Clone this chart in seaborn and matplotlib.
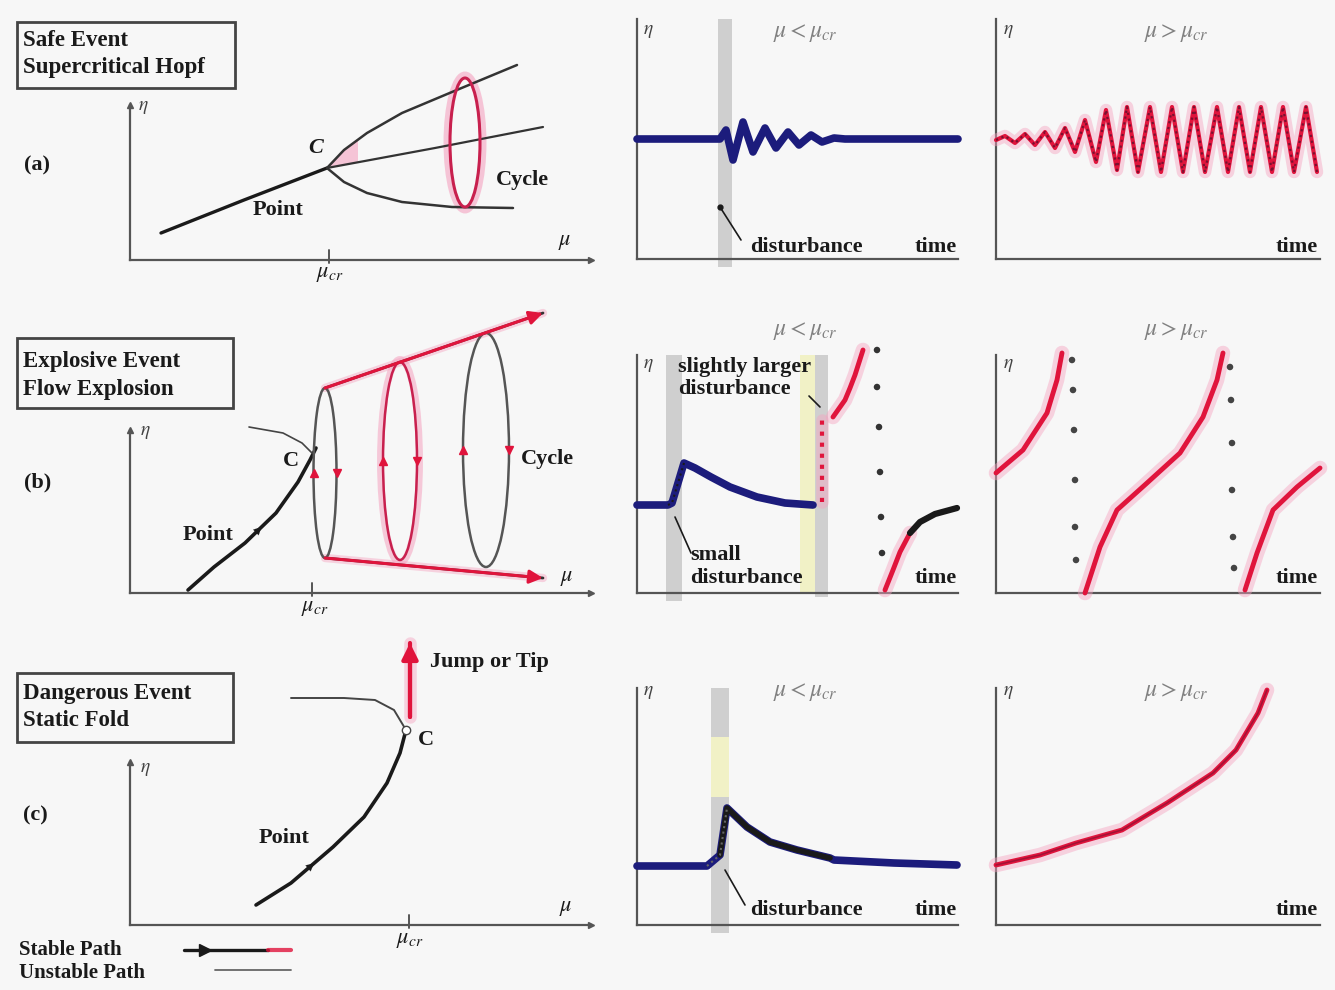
import numpy as np
import pandas as pd
import matplotlib
matplotlib.use("Agg")
import matplotlib.pyplot as plt
import seaborn as sns
from matplotlib.patches import Ellipse, Rectangle
from matplotlib.lines import Line2D

# ---------------- data (panel units = px from axis origin) -------------
# (a) supercritical Hopf
A_POINT_X = [31, 114, 197]
A_POINT_Y = [27, 60, 92]
A_MID_X = [197, 305, 413]
A_MID_Y = [92, 112, 133]
A_UP_X = [197, 214, 237, 272, 322, 387]
A_UP_Y = [92, 110, 127, 147, 168, 195]
A_LOW_X = [197, 214, 237, 272, 322, 383]
A_LOW_Y = [92, 78, 67, 58, 53, 52]
A_CYCLE = (335, 117.5, 30, 129)          # centre x, centre y, width, height
A_WEDGE_X = [197, 214, 228, 228]
A_WEDGE_Y = [92, 110, 121, 98]
A_MUCR = 199

MA_T = [0, 83, 89, 96, 106, 116, 128, 139, 151, 162, 174, 185, 197, 208, 321]
MA_Y = [120, 120, 129, 99, 137, 107, 131, 111, 127, 114, 124, 117, 121, 120, 120]
MA_DIST = (81, 95)

RA_T = [0, 9, 19, 29, 39, 49, 59, 69, 79, 89, 100, 110, 121, 131, 142, 154, 165, 176, 187,
        198, 209, 221, 232, 243, 254, 265, 276, 287, 298, 310, 321]
RA_Y = [119, 123, 116, 125, 114, 127, 111, 131, 107, 139, 97, 149, 89, 152, 87, 152, 87, 152, 87,
        152, 87, 152, 87, 152, 87, 152, 87, 152, 87, 152, 87]

# (b) flow explosion
B_POINT_X = [58, 84, 115, 146, 168, 180, 186]
B_POINT_Y = [3, 26, 50, 80, 111, 133, 145]
B_NOTE_X = [119, 153, 172, 182]
B_NOTE_Y = [166, 160, 150, 140]
B_CYCLES_CX = [195, 270, 356]
B_CYCLES_CY = [120, 132, 143]
B_CYCLES_W = [23, 34, 46]
B_CYCLES_H = [170, 198, 234]
B_TOP_X = [195, 413]
B_TOP_Y = [205, 280]
B_BOT_X = [195, 413]
B_BOT_Y = [35, 15]
B_MUCR = 182

MB_BLUE_T = [0, 31, 35, 47, 58, 74, 93, 120, 148, 176]
MB_BLUE_Y = [88, 88, 90, 130, 125, 116, 106, 96, 90, 88]
MB_JUMP_T = [185, 185]
MB_JUMP_Y = [91, 173]
MB_UP_T = [196, 208, 213, 218, 226]
MB_UP_Y = [176, 193, 205, 218, 243]
MB_DOTS_T = [240, 240, 242, 243, 244, 245]
MB_DOTS_Y = [243, 206, 166, 121, 76, 40]
MB_LOW_T = [248, 256, 263, 273]
MB_LOW_Y = [3, 23, 41, 60]
MB_REST_T = [273, 283, 298, 320]
MB_REST_Y = [60, 71, 79, 85]
MB_BAND1 = (29, 45)
MB_BAND2 = (163, 191)

RB_C1_T = [0, 27, 51, 61, 66]
RB_C1_Y = [120, 143, 180, 213, 240]
RB_D1_T = [76, 77, 78, 79, 79, 80]
RB_D1_Y = [233, 203, 163, 113, 66, 33]
RB_C2_T = [89, 104, 121, 151, 184, 207, 221, 227]
RB_C2_Y = [0, 46, 83, 110, 140, 176, 213, 240]
RB_D2_T = [234, 235, 236, 236, 237, 238]
RB_D2_Y = [226, 193, 150, 103, 56, 25]
RB_C3_T = [249, 261, 277, 301, 324]
RB_C3_Y = [3, 40, 83, 106, 125]

# (c) static fold
C_STABLE_X = [126, 161, 203, 234, 257, 270, 276]
C_STABLE_Y = [20, 42, 78, 108, 142, 172, 195]
C_UNST_X = [276, 264, 245, 214, 161]
C_UNST_Y = [195, 215, 225, 227, 227]
C_JUMP_X = [280, 280]
C_JUMP_Y = [208, 282]
C_MUCR = 279

MC_T = [0, 70, 83, 90, 110, 133, 160, 193, 197, 257, 320]
MC_Y = [59, 59, 70, 117, 98, 83, 75, 67, 65, 62, 60]
MC_DIST = (74, 92)

RC_T = [0, 44, 80, 126, 171, 217, 240, 262, 271]
RC_Y = [60, 70, 82, 95, 122, 152, 175, 212, 235]

TITLES = [("Safe Event", "Supercritical Hopf"),
          ("Explosive Event", "Flow Explosion"),
          ("Dangerous Event", "Static Fold")]
ROW_TAGS = ["(a)", "(b)", "(c)"]

# ---------------- styling -------------
sns.set_theme(style="white")
plt.rcParams['font.family'] = ['Liberation Serif', 'DejaVu Serif']
plt.rcParams['mathtext.fontset'] = 'stix'

BG = '#f7f7f7'
AXC = '#555555'
BLK = '#1a1a1a'
NAVY = '#1c1c7c'
RED = '#e0143c'
PINK = '#f5a3c0'
GBAND = '#cbcbcb'
YEL = '#f1f1c6'
TXT = dict(fontsize=16, fontweight='bold', color=BLK)

W, H = 1335, 990
fig = plt.figure(figsize=(W / 100, H / 100), dpi=100, facecolor=BG)

panels = []


def panel(x0, y0, w, h, arrows=False):
    ax = fig.add_axes([x0 / W, 1 - y0 / H, w / W, h / H])
    ax.set_facecolor('none')
    for s in ['top', 'right']:
        ax.spines[s].set_visible(False)
    for s in ['left', 'bottom']:
        ax.spines[s].set_color(AXC)
        ax.spines[s].set_linewidth(1.6)
    ax.set_xticks([]); ax.set_yticks([])
    if arrows:
        ax.plot([0], [1], marker='^', ms=5, color=AXC, transform=ax.transAxes, clip_on=False)
        ax.plot([1], [0], marker='>', ms=5, color=AXC, transform=ax.transAxes, clip_on=False)
    panels.append((ax, w, h))
    return ax


def curve(ax, xs, ys, color=BLK, lw=2.2, ls='-', glow=None, z=3, alpha=1.0):
    df = pd.DataFrame({'x': xs, 'y': ys})
    if glow:
        sns.lineplot(data=df, x='x', y='y', sort=False, estimator=None, ax=ax, color=glow,
                     lw=lw * 3, alpha=0.45, clip_on=False, zorder=z - 1,
                     solid_capstyle='round')
    sns.lineplot(data=df, x='x', y='y', sort=False, estimator=None, ax=ax, color=color,
                 lw=lw, ls=ls, clip_on=False, zorder=z, alpha=alpha,
                 solid_capstyle='round', solid_joinstyle='round')


def arrow_head(ax, xs, ys, i, color=BLK, size=14, frac=0.6):
    x0, y0, x1, y1 = xs[i], ys[i], xs[i + 1], ys[i + 1]
    xm, ym = x0 + (x1 - x0) * frac, y0 + (y1 - y0) * frac
    ax.annotate('', xy=(xm, ym), xytext=(x0, y0),
                arrowprops=dict(arrowstyle='-|>', color=color, lw=0.1, mutation_scale=size),
                annotation_clip=False, zorder=6)


def end_arrow(ax, xs, ys, color=RED, size=20, lw=2.2):
    ax.annotate('', xy=(xs[-1], ys[-1]), xytext=(xs[-2], ys[-2]),
                arrowprops=dict(arrowstyle='-|>', color=color, lw=lw, mutation_scale=size,
                                shrinkA=0, shrinkB=0),
                annotation_clip=False, zorder=6)


def label(ax, x, y, s, ha='center', va='center', **kw):
    d = dict(TXT); d.update(kw)
    ax.text(x, y, s, ha=ha, va=va, clip_on=False, **d)


def cond(ax, x, y, s):
    ax.text(x, y, s, ha='center', va='center', fontsize=17, color='#808080', clip_on=False)


def eta(ax, x, y):
    ax.text(x, y, r'$\eta$', ha='center', va='center', fontsize=14, color='#444444', clip_on=False)


def band(ax, span, h, color=GBAND, lo=-8, alpha=0.9):
    ax.add_patch(Rectangle((span[0], lo), span[1] - span[0], h - lo, color=color, alpha=alpha,
                           lw=0, zorder=1, clip_on=False))


def fx(x, y):
    return x / W, 1 - y / H


# ---------------- title boxes and row tags -------------
boxes = [(17, 22, 235, 88, 40, 67), (17, 338, 233, 408, 362, 390), (17, 673, 233, 742, 693, 721)]
for (x0, y0, x1, y1, t1, t2), (a, b) in zip(boxes, TITLES):
    fig.add_artist(Rectangle(fx(x0, y1), (x1 - x0) / W, (y1 - y0) / H, transform=fig.transFigure,
                             fill=False, ec='#444444', lw=2.0))
    fig.text(*fx(23, t1), a, ha='left', va='center', fontsize=16.5, fontweight='bold', color=BLK)
    fig.text(*fx(23, t2), b, ha='left', va='center', fontsize=16.5, fontweight='bold', color=BLK)
for (x, y), tag in zip([(37, 165), (38, 482), (35, 815)], ROW_TAGS):
    fig.text(*fx(x, y), tag, ha='center', va='center', fontsize=16, fontweight='bold', color=BLK)

# ---------------- row (a) -------------
ax = panel(130, 260, 461, 155, arrows=True)
ax.fill(A_WEDGE_X, A_WEDGE_Y, color=PINK, alpha=0.6, lw=0, zorder=2)
curve(ax, A_POINT_X, A_POINT_Y, lw=2.4)
curve(ax, A_MID_X, A_MID_Y, color='#333333', lw=1.6)
curve(ax, A_UP_X, A_UP_Y, color='#333333', lw=1.8)
curve(ax, A_LOW_X, A_LOW_Y, color='#333333', lw=1.8)
cx, cy, ew, eh = A_CYCLE
ax.add_patch(Ellipse((cx, cy), ew + 6, eh + 6, fill=False, ec=PINK, lw=5, alpha=0.6, zorder=2,
                     clip_on=False))
ax.add_patch(Ellipse((cx, cy), ew, eh, fill=False, ec='#c8204e', lw=2.2, zorder=4, clip_on=False))
ax.plot([A_MUCR, A_MUCR], [-3, 10], color=AXC, lw=1.4, clip_on=False)
label(ax, 186, 112, 'C', fontstyle='italic')
label(ax, 148, 50, 'Point')
label(ax, 392, 80, 'Cycle')
label(ax, 435, 18, r'$\mu$', fontweight='normal')
label(ax, 200, -14, r'$\mu_{cr}$', fontweight='normal', fontsize=16)
eta(ax, 13, 152)

ax = panel(637, 259, 321, 240)
band(ax, MA_DIST, 240)
curve(ax, MA_T, MA_Y, color=NAVY, lw=5.5, z=4)
ax.plot([83, 104], [52, 19], color=BLK, lw=1.2, clip_on=False)
ax.plot([83], [52], 'o', color=BLK, ms=3.5, clip_on=False)
cond(ax, 168, 226, r'$\mu < \mu_{cr}$')
eta(ax, 11, 227)
label(ax, 169, 12, 'disturbance')
label(ax, 299, 12, 'time')

ax = panel(996, 259, 324, 240)
curve(ax, RA_T, RA_Y, color=RED, lw=3.0, glow=PINK, z=4)
curve(ax, RA_T, RA_Y, color='#7a1030', lw=1.6, ls=':', z=5)
cond(ax, 180, 226, r'$\mu > \mu_{cr}$')
eta(ax, 12, 227)
label(ax, 301, 12, 'time')

# ---------------- row (b) -------------
ax = panel(130, 593, 461, 163, arrows=True)
curve(ax, B_POINT_X, B_POINT_Y, lw=2.6)
arrow_head(ax, B_POINT_X, B_POINT_Y, 2)
curve(ax, B_NOTE_X, B_NOTE_Y, color='#444444', lw=1.2)
ecols = ['#555555', '#c8204e', '#555555']
for cxi, cyi, wi, hi, ec in zip(B_CYCLES_CX, B_CYCLES_CY, B_CYCLES_W, B_CYCLES_H, ecols):
    if ec != '#555555':
        ax.add_patch(Ellipse((cxi, cyi), wi + 5, hi + 5, fill=False, ec=PINK, lw=5, alpha=0.55,
                             zorder=2, clip_on=False))
    ax.add_patch(Ellipse((cxi, cyi), wi, hi, fill=False, ec=ec, lw=1.8, zorder=4, clip_on=False))
    ax.plot([cxi + wi / 2], [cyi], marker='v', color=RED, ms=6, clip_on=False, zorder=5)
    ax.plot([cxi - wi / 2], [cyi], marker='^', color=RED, ms=6, clip_on=False, zorder=5)
curve(ax, B_TOP_X, B_TOP_Y, color='#333333', lw=2.0, glow=PINK)
end_arrow(ax, B_TOP_X, B_TOP_Y)
curve(ax, B_BOT_X, B_BOT_Y, color='#333333', lw=2.0, glow=PINK)
end_arrow(ax, B_BOT_X, B_BOT_Y)
ax.plot([B_MUCR, B_MUCR], [-3, 10], color=AXC, lw=1.4, clip_on=False)
label(ax, 161, 132, 'C')
label(ax, 78, 58, 'Point')
label(ax, 417, 134, 'Cycle')
label(ax, 437, 15, r'$\mu$', fontweight='normal')
label(ax, 185, -16, r'$\mu_{cr}$', fontweight='normal', fontsize=16)
eta(ax, 15, 160)

ax = panel(637, 593, 321, 238)
band(ax, MB_BAND1, 238)
band(ax, (MB_BAND2[0], MB_BAND2[0] + 15), 238, color=YEL, alpha=1.0, lo=0)
band(ax, (MB_BAND2[0] + 15, MB_BAND2[1]), 238, lo=-4)
curve(ax, MB_BLUE_T, MB_BLUE_Y, color=NAVY, lw=5.5, z=4)
curve(ax, MB_BLUE_T[1:4], MB_BLUE_Y[1:4], color=BLK, lw=1.5, ls=':', z=5)
curve(ax, MB_JUMP_T, MB_JUMP_Y, color=RED, lw=3, ls=':', glow=PINK, z=4)
curve(ax, MB_UP_T, MB_UP_Y, color=RED, lw=3.5, glow=PINK, z=4)
sns.scatterplot(x=MB_DOTS_T, y=MB_DOTS_Y, ax=ax, color='#333333', s=22, edgecolor='none',
                clip_on=False, zorder=5)
curve(ax, MB_LOW_T, MB_LOW_Y, color=RED, lw=3.5, glow=PINK, z=4)
curve(ax, MB_REST_T, MB_REST_Y, color=BLK, lw=4.5, z=4)
ax.plot([38, 54], [76, 40], color=BLK, lw=1.2, clip_on=False)
ax.plot([172, 183], [197, 186], color=BLK, lw=1.2, clip_on=False)
cond(ax, 168, 262, r'$\mu < \mu_{cr}$')
eta(ax, 11, 228)
label(ax, 41, 226, 'slightly larger', ha='left')
label(ax, 41, 204, 'disturbance', ha='left')
label(ax, 53, 38, 'small', ha='left')
label(ax, 53, 15, 'disturbance', ha='left')
label(ax, 299, 15, 'time')

ax = panel(996, 593, 324, 238)
for tx, ty in [(RB_C1_T, RB_C1_Y), (RB_C2_T, RB_C2_Y), (RB_C3_T, RB_C3_Y)]:
    curve(ax, tx, ty, color=RED, lw=3.5, glow=PINK, z=4)
for tx, ty in [(RB_D1_T, RB_D1_Y), (RB_D2_T, RB_D2_Y)]:
    sns.scatterplot(x=tx, y=ty, ax=ax, color='#444444', s=22, edgecolor='none',
                    clip_on=False, zorder=5)
cond(ax, 180, 262, r'$\mu > \mu_{cr}$')
eta(ax, 12, 228)
label(ax, 301, 15, 'time')

# ---------------- row (c) -------------
ax = panel(130, 925, 461, 163, arrows=True)
curve(ax, C_STABLE_X, C_STABLE_Y, lw=2.6)
arrow_head(ax, C_STABLE_X, C_STABLE_Y, 1)
curve(ax, C_UNST_X, C_UNST_Y, color='#444444', lw=1.4)
ax.plot([C_UNST_X[0]], [C_UNST_Y[0]], 'o', mfc='white', mec='#444444', ms=6, clip_on=False, zorder=6)
curve(ax, C_JUMP_X, C_JUMP_Y, color=RED, lw=3, glow=PINK)
end_arrow(ax, C_JUMP_X, C_JUMP_Y, size=24, lw=3)
ax.plot([C_MUCR, C_MUCR], [-3, 10], color=AXC, lw=1.4, clip_on=False)
label(ax, 300, 263, 'Jump or Tip', ha='left')
label(ax, 296, 185, 'C')
label(ax, 154, 87, 'Point')
label(ax, 436, 17, r'$\mu$', fontweight='normal')
label(ax, 280, -16, r'$\mu_{cr}$', fontweight='normal', fontsize=16)
eta(ax, 15, 155)

ax = panel(637, 925, 321, 237)
band(ax, MC_DIST, 237)
ax.add_patch(Rectangle((MC_DIST[0], 128), MC_DIST[1] - MC_DIST[0], 60, color=YEL, lw=0, zorder=1))
curve(ax, MC_T, MC_Y, color=NAVY, lw=5.5, z=4)
curve(ax, MC_T[2:8], MC_Y[2:8], color=BLK, lw=4.0, z=5)
curve(ax, MC_T[1:4], MC_Y[1:4], color='#666666', lw=1.5, ls=':', z=6)
ax.plot([88, 108], [55, 20], color=BLK, lw=1.2, clip_on=False)
cond(ax, 168, 233, r'$\mu < \mu_{cr}$')
eta(ax, 11, 233)
label(ax, 169, 15, 'disturbance')
label(ax, 299, 15, 'time')

ax = panel(996, 925, 324, 237)
curve(ax, RC_T, RC_Y, color=RED, lw=3.5, glow=PINK, z=4)
curve(ax, RC_T, RC_Y, color='#6a1030', lw=1.2, alpha=0.5, z=5)
cond(ax, 180, 233, r'$\mu > \mu_{cr}$')
eta(ax, 12, 233)
label(ax, 301, 15, 'time')

# ---------------- path legend (bottom-left) -------------
fig.text(*fx(19, 950), 'Stable Path', ha='left', va='center', fontsize=15, fontweight='bold', color=BLK)
fig.text(*fx(19, 973), 'Unstable Path', ha='left', va='center', fontsize=15, fontweight='bold', color=BLK)
fig.add_artist(Line2D([184 / W, 268 / W], [1 - 950 / H] * 2, transform=fig.transFigure, color=BLK, lw=2.4))
fig.add_artist(Line2D([205 / W], [1 - 950 / H], transform=fig.transFigure, color=BLK, marker='>', ms=8))
fig.add_artist(Line2D([268 / W, 291 / W], [1 - 950 / H] * 2, transform=fig.transFigure, color=RED, lw=3,
                      alpha=0.8))
fig.add_artist(Line2D([215 / W, 291 / W], [1 - 970 / H] * 2, transform=fig.transFigure, color='#666666', lw=1.3))

for ax, w, h in panels:
    ax.set_xlim(0, w)
    ax.set_ylim(0, h)
    ax.set_xlabel('')
    ax.set_ylabel('')

fig.savefig('out.png', dpi=100, facecolor=BG)
